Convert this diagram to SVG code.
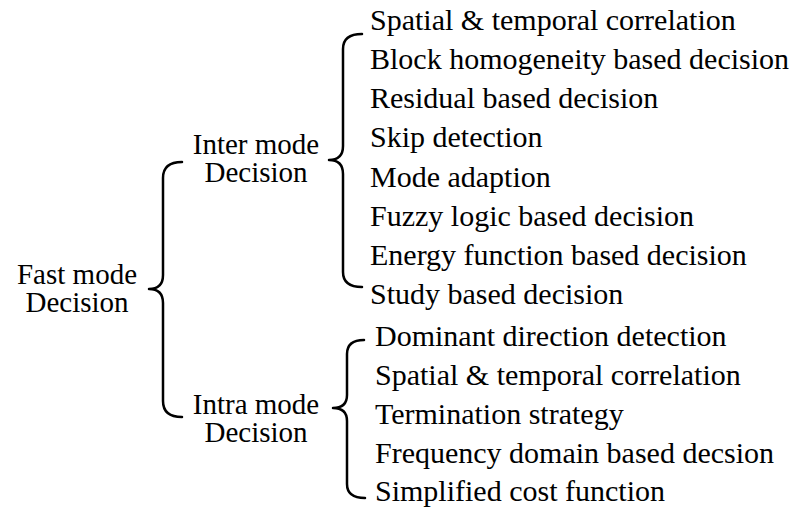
<svg xmlns="http://www.w3.org/2000/svg" width="789" height="509" viewBox="0 0 789 509">
  <style>
    .t { font-family: 'Liberation Serif', Tinos, 'DejaVu Serif', serif; font-size: 30px; fill: #000; }
    .lbl { font-size: 29px; }
    .mid { text-anchor: middle; }
    .brace { fill: none; stroke: #000; stroke-width: 2.5; stroke-linecap: round; stroke-linejoin: round; }
  </style>
  <rect width="789" height="509" fill="#fff"/>

  <g id="connectors">
    <path class="brace" d="M182,162 Q163,162 163,178 L163,275 Q163,289 149,289 Q163,289 163,303 L163,401 Q163,417 182,417"/>
    <path class="brace" d="M362,34 Q343,34 343,49 L343,146 Q343,160 329,160 Q343,160 343,174 L343,272 Q343,287 362,287"/>
    <path class="brace" d="M364,340 Q347,340 347,354 L347,395 Q347,408 333,408 Q347,408 347,421 L347,484 Q347,498 365,498"/>
  </g>

  <g id="fast-mode" class="t lbl mid">
    <text x="77" y="284">Fast mode</text>
    <text x="77" y="312">Decision</text>
  </g>

  <g id="inter-mode" class="t lbl mid">
    <text x="256" y="154">Inter mode</text>
    <text x="256" y="182">Decision</text>
  </g>

  <g id="intra-mode" class="t lbl mid">
    <text x="256" y="414">Intra mode</text>
    <text x="256" y="442">Decision</text>
  </g>

  <g id="inter-methods" class="t">
    <text x="370" y="30">Spatial &amp; temporal correlation</text>
    <text x="370" y="69">Block homogeneity based decision</text>
    <text x="370" y="108">Residual based decision</text>
    <text x="370" y="147">Skip detection</text>
    <text x="370" y="187">Mode adaption</text>
    <text x="370" y="226">Fuzzy logic based decision</text>
    <text x="370" y="265">Energy function based decision</text>
    <text x="370" y="304">Study based decision</text>
  </g>

  <g id="intra-methods" class="t">
    <text x="375" y="346">Dominant direction detection</text>
    <text x="375" y="385">Spatial &amp; temporal correlation</text>
    <text x="375" y="424">Termination strategy</text>
    <text x="375" y="463">Frequency domain based decsion</text>
    <text x="375" y="501">Simplified cost function</text>
  </g>
</svg>
